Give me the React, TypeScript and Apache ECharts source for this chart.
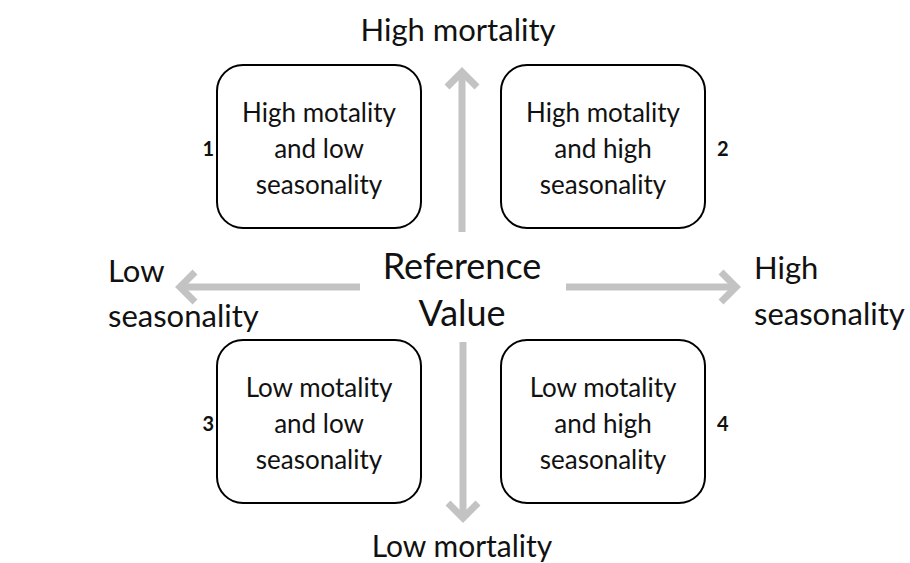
import React, { useEffect, useRef } from "react";
import * as echarts from "echarts";

const axisTop = "High mortality";
const axisBottom = "Low mortality";
const axisLeft = ["Low", "seasonality"];
const axisRight = ["High", "seasonality"];
const centerLabel = ["Reference", "Value"];
const quadrantTexts = [
  ["High motality", "and low", "seasonality"],
  ["High motality", "and high", "seasonality"],
  ["Low motality", "and low", "seasonality"],
  ["Low motality", "and high", "seasonality"],
];
const quadrantNumbers = ["1", "2", "3", "4"];

const FONT = "Lato, 'Open Sans', sans-serif";
const GRAY = "#c3c3c3";

export default function App() {
  const ref = useRef<HTMLDivElement>(null);
  useEffect(() => {
    document.body.style.margin = "0";
    const chart = echarts.init(ref.current!, null, { renderer: "svg" });
    const boxes = [
      { x: 217, y: 65 },
      { x: 501, y: 65 },
      { x: 217, y: 340 },
      { x: 501, y: 340 },
    ];
    const bw = 204, bh = 163;
    const els: any[] = [];
    boxes.forEach((b, i) => {
      els.push({
        type: "rect",
        shape: { x: b.x, y: b.y, width: bw, height: bh, r: 26 },
        style: { fill: "#fff", stroke: "#000", lineWidth: 2 },
      });
      quadrantTexts[i].forEach((t, j) => {
        els.push({
          type: "text",
          x: b.x + bw / 2,
          y: b.y + 47 + j * 36,
          style: { text: t, font: `26px ${FONT}`, fill: "#111", align: "center", verticalAlign: "middle" },
        });
      });
      const nx = i % 2 === 0 ? b.x - 3 : b.x + bw + 12;
      els.push({
        type: "text",
        x: nx,
        y: b.y + 83,
        style: { text: quadrantNumbers[i], font: `bold 20px ${FONT}`, fill: "#111", align: i % 2 === 0 ? "right" : "left", verticalAlign: "middle" },
      });
    });
    const lw = 7;
    const arrow = (x1: number, y1: number, x2: number, y2: number) => {
      const dx = x2 - x1, dy = y2 - y1;
      const len = Math.hypot(dx, dy);
      const ux = dx / len, uy = dy / len;
      const hl = 17, hw = 15;
      const bx = x2 - ux * hl, by = y2 - uy * hl;
      els.push({
        type: "line",
        shape: { x1, y1, x2: x2 - ux * 3, y2: y2 - uy * 3 },
        style: { stroke: GRAY, lineWidth: lw },
      });
      els.push({
        type: "polyline",
        shape: { points: [[bx - uy * hw, by + ux * hw], [x2 - ux * 2, y2 - uy * 2], [bx + uy * hw, by - ux * hw]] },
        style: { stroke: GRAY, lineWidth: lw, fill: "none", lineJoin: "miter" },
      });
    };
    arrow(462, 232, 462, 70);
    arrow(463, 342, 463, 520);
    arrow(360, 287, 178, 287);
    arrow(566, 287, 738, 287);

    els.push({ type: "text", x: 458, y: 29, style: { text: axisTop, font: `31px ${FONT}`, fill: "#111", align: "center", verticalAlign: "middle" } });
    els.push({ type: "text", x: 462, y: 545, style: { text: axisBottom, font: `30px ${FONT}`, fill: "#111", align: "center", verticalAlign: "middle" } });
    axisLeft.forEach((t, j) => els.push({ type: "text", x: 108, y: 270 + j * 45, style: { text: t, font: `31px ${FONT}`, fill: "#111", align: "left", verticalAlign: "middle" } }));
    axisRight.forEach((t, j) => els.push({ type: "text", x: 754, y: 267 + j * 46, style: { text: t, font: `31px ${FONT}`, fill: "#111", align: "left", verticalAlign: "middle" } }));
    centerLabel.forEach((t, j) => els.push({ type: "text", x: 462, y: 265 + j * 47, style: { text: t, font: `36px ${FONT}`, fill: "#111", align: "center", verticalAlign: "middle" } }));

    chart.setOption({ animation: false, backgroundColor: "#fff", graphic: { elements: els } });
    return () => chart.dispose();
  }, []);
  return <div ref={ref} style={{ width: 910, height: 563 }} />;
}
